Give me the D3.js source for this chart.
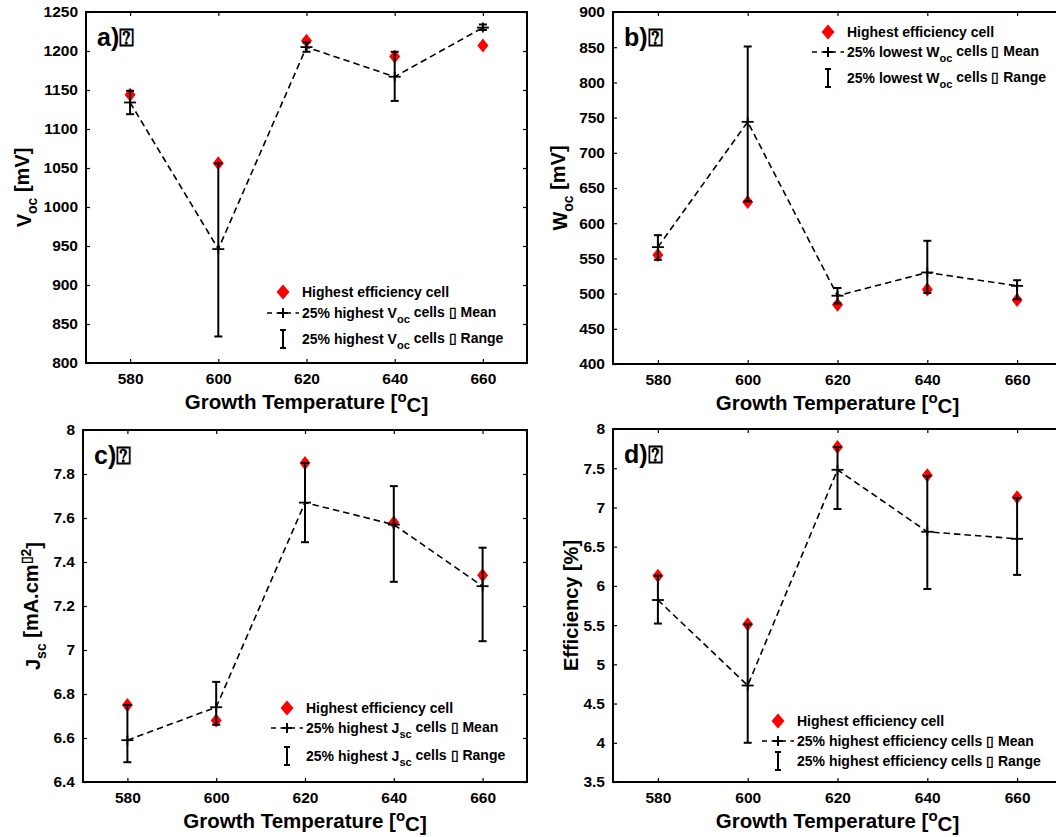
<!DOCTYPE html>
<html>
<head>
<meta charset="utf-8">
<script src="https://cdn.jsdelivr.net/npm/d3@7"></script>
<style>
  body { margin:0; background:#fff; }
  svg { display:block; font-family:"Liberation Sans", Arial, sans-serif; font-weight:bold; }
</style>
</head>
<body>
<script>

var temps = [580,600,620,640,660];
var xTicks = [580,600,620,640,660];

// a) Voc
var vocBest = [1144,1056,1213,1193,1207];
var vocMean = [1134,946,1205,1167,1230];
var vocMin  = [1119,834,1199,1136,1227];
var vocMax  = [1149,1056,1211,1199,1234];
var vocTicks = [800,850,900,950,1000,1050,1100,1150,1200,1250];

// b) Woc
var wocBest = [555,630,484,506,491];
var wocMean = [566,744,497,530,511];
var wocMin  = [548,631,486,501,492];
var wocMax  = [583,851,508,575,519];
var wocTicks = [400,450,500,550,600,650,700,750,800,850,900];

// c) Jsc
var jscBest = [6.75,6.68,7.85,7.58,7.34];
var jscMean = [6.59,6.74,7.67,7.57,7.29];
var jscMin  = [6.49,6.66,7.49,7.31,7.04];
var jscMax  = [6.75,6.855,7.85,7.745,7.465];
var jscTicks = [6.4,6.6,6.8,7,7.2,7.4,7.6,7.8,8];

// d) Efficiency
var effBest = [6.13,5.51,7.77,7.41,7.13];
var effMean = [5.82,4.73,7.48,6.69,6.60];
var effMin  = [5.52,4.00,6.98,5.96,6.14];
var effMax  = [6.13,5.51,7.77,7.40,7.12];
var effTicks = [3.5,4,4.5,5,5.5,6,6.5,7,7.5,8];

var svg = d3.select("body").append("svg")
    .attr("width",1056)
    .attr("height",837);

var panels = [
  {box:[86,12,527,363], y:[800,1250], ticks:vocTicks, best:vocBest, mean:vocMean, lo:vocMin, hi:vocMax,
   tag:"a)", ylab:["V","oc"," [mV]"], ylabX:31, leg:[283,292,313,339], legName:["25% highest V","oc"," cells \u25AF Mean"," cells \u25AF Range"]},
  {box:[613,12,1062,364], y:[400,900], ticks:wocTicks, best:wocBest, mean:wocMean, lo:wocMin, hi:wocMax,
   tag:"b)", ylab:["W","oc"," [mV]"], ylabX:567, leg:[828,32,52,78], legName:["25% lowest W","oc"," cells \u25AF Mean"," cells \u25AF Range"]},
  {box:[83,430,527,782], y:[6.4,8], ticks:jscTicks, best:jscBest, mean:jscMean, lo:jscMin, hi:jscMax,
   tag:"c)", ylab:["J","sc"," [mA.cm"], ylabX:40, sup:true, leg:[287,708,728,756], legName:["25% highest J","sc"," cells \u25AF Mean"," cells \u25AF Range"]},
  {box:[613,429,1062,782], y:[3.5,8], ticks:effTicks, best:effBest, mean:effMean, lo:effMin, hi:effMax,
   tag:"d)", ylab:["Efficiency [%]"], ylabX:578, leg:[778,721,741,761], legName:["25% highest efficiency cells \u25AF Mean"]}
];

var diamond = function(g,x,y,w,h)
{
  g.append("path")
    .attr("d","M"+x+","+(y-h/2)+"L"+(x+w/2)+","+y+"L"+x+","+(y+h/2)+"L"+(x-w/2)+","+y+"Z")
    .attr("fill","#ff0000");
}

var drawPanel = function(p)
{
  var L=p.box[0], T=p.box[1], R=p.box[2], B=p.box[3];
  var xScale = d3.scaleLinear().domain([570,670]).range([L,R]);
  var yScale = d3.scaleLinear().domain(p.y).range([B,T]);
  var g = svg.append("g");

  // box and ticks
  var tl = 4;
  g.append("rect").attr("x",L).attr("y",T).attr("width",R-L).attr("height",B-T)
    .attr("fill","none").attr("stroke","#000").attr("stroke-width",2);

  var xAxis = d3.axisBottom(xScale).tickValues(xTicks).tickSizeInner(-tl).tickSizeOuter(0).tickPadding(10);
  g.append("g").attr("transform","translate(0,"+B+")").call(xAxis);
  g.append("g").attr("transform","translate(0,"+T+")")
    .call(d3.axisTop(xScale).tickValues(xTicks).tickSizeInner(-tl).tickSizeOuter(0).tickFormat(""));

  var yAxis = d3.axisLeft(yScale).tickValues(p.ticks).tickSizeInner(-tl).tickSizeOuter(0).tickPadding(8)
    .tickFormat(function(d){return String(d);});
  g.append("g").attr("transform","translate("+L+",0)").call(yAxis);
  g.append("g").attr("transform","translate("+R+",0)")
    .call(d3.axisRight(yScale).tickValues(p.ticks).tickSizeInner(-tl).tickSizeOuter(0).tickFormat(""));

  g.selectAll(".domain").remove();
  g.selectAll(".tick line").attr("stroke","#000").attr("stroke-width",1.2);
  g.selectAll(".tick text").attr("fill","#000")
    .style("font-size","15.5px").style("font-weight","bold")
    .style("font-family","'Liberation Sans', Arial, sans-serif");

  // red diamonds
  var pts = g.append("g");
  temps.forEach(function(t,i){ diamond(pts,xScale(t),yScale(p.best[i]),11,14); });

  // dashed mean line
  var line = d3.line().x(function(d,i){return xScale(temps[i]);}).y(function(d){return yScale(d);});
  g.append("path").datum(p.mean).attr("d",line)
    .attr("fill","none").attr("stroke","#000").attr("stroke-width",1.6).attr("stroke-dasharray","6.5,4");

  // error bars
  var eb = g.append("g").attr("stroke","#000").attr("stroke-width",2);
  temps.forEach(function(t,i){
    var x = xScale(t);
    eb.append("line").attr("x1",x).attr("x2",x).attr("y1",yScale(p.lo[i])).attr("y2",yScale(p.hi[i]));
    eb.append("line").attr("x1",x-4).attr("x2",x+4).attr("y1",yScale(p.lo[i])).attr("y2",yScale(p.lo[i]));
    eb.append("line").attr("x1",x-4).attr("x2",x+4).attr("y1",yScale(p.hi[i])).attr("y2",yScale(p.hi[i]));
    // + marker
    var ym = yScale(p.mean[i]);
    eb.append("line").attr("x1",x-6).attr("x2",x+6).attr("y1",ym).attr("y2",ym).attr("stroke-width",1.8);
    eb.append("line").attr("x1",x).attr("x2",x).attr("y1",ym-5).attr("y2",ym+5).attr("stroke-width",1.8);
  });

  // panel tag
  g.append("text").attr("x",L+11).attr("y",T+34).style("font-size","25px").text(p.tag+"\u2370");

  // x label
  var xl = g.append("text").attr("x",(L+R)/2).attr("y",B+46).attr("text-anchor","middle").style("font-size","20.5px");
  xl.append("tspan").text("Growth Temperature [");
  xl.append("tspan").attr("dy","-0.5em").style("font-size","15px").text("o");
  xl.append("tspan").attr("dy","0.5em").text("C]");

  // y label
  var yl = g.append("text").attr("transform","translate("+p.ylabX+","+((T+B)/2)+") rotate(-90)")
    .attr("text-anchor","middle").style("font-size","20px");
  yl.append("tspan").text(p.ylab[0]);
  if (p.ylab.length>1) {
    yl.append("tspan").attr("dy","0.4em").style("font-size","14px").text(p.ylab[1]);
    yl.append("tspan").attr("dy","-0.4em").text(p.ylab[2]);
  }
  if (p.sup) {
    yl.append("tspan").attr("dy","-0.5em").style("font-size","14px").text("\u25AF2");
    yl.append("tspan").attr("dy","0.5em").text("]");
  }

  // legend
  var lx = p.leg[0];
  var lg = g.append("g").style("font-size","14px");
  diamond(lg,lx,p.leg[1],13,15);
  lg.append("text").attr("x",lx+19).attr("y",p.leg[1]+5).text("Highest efficiency cell");

  var y2 = p.leg[2];
  lg.append("line").attr("x1",lx-16).attr("x2",lx+16).attr("y1",y2).attr("y2",y2)
    .attr("stroke","#000").attr("stroke-width",1.6).attr("stroke-dasharray","5,4.5");
  lg.append("line").attr("x1",lx-5).attr("x2",lx+5).attr("y1",y2).attr("y2",y2).attr("stroke","#000").attr("stroke-width",2);
  lg.append("line").attr("x1",lx).attr("x2",lx).attr("y1",y2-5).attr("y2",y2+5).attr("stroke","#000").attr("stroke-width",2);

  var y3 = p.leg[3];
  lg.append("line").attr("x1",lx).attr("x2",lx).attr("y1",y3-9).attr("y2",y3+9).attr("stroke","#000").attr("stroke-width",2);
  lg.append("line").attr("x1",lx-3).attr("x2",lx+3).attr("y1",y3-9).attr("y2",y3-9).attr("stroke","#000").attr("stroke-width",2);
  lg.append("line").attr("x1",lx-3).attr("x2",lx+3).attr("y1",y3+9).attr("y2",y3+9).attr("stroke","#000").attr("stroke-width",2);

  if (p.legName.length>1) {
    [[y2,p.legName[2]],[y3,p.legName[3]]].forEach(function(r){
      var t = lg.append("text").attr("x",lx+19).attr("y",r[0]+5);
      t.append("tspan").text(p.legName[0]);
      t.append("tspan").attr("dy","0.45em").style("font-size","11px").text(p.legName[1]);
      t.append("tspan").attr("dy","-0.45em").text(r[1]);
    });
  } else {
    lg.append("text").attr("x",lx+19).attr("y",y2+5).text(p.legName[0]);
    lg.append("text").attr("x",lx+19).attr("y",y3+5).text(p.legName[0].replace("Mean","Range"));
  }
}

panels.forEach(function(p){ drawPanel(p); });

</script>
</body>
</html>
